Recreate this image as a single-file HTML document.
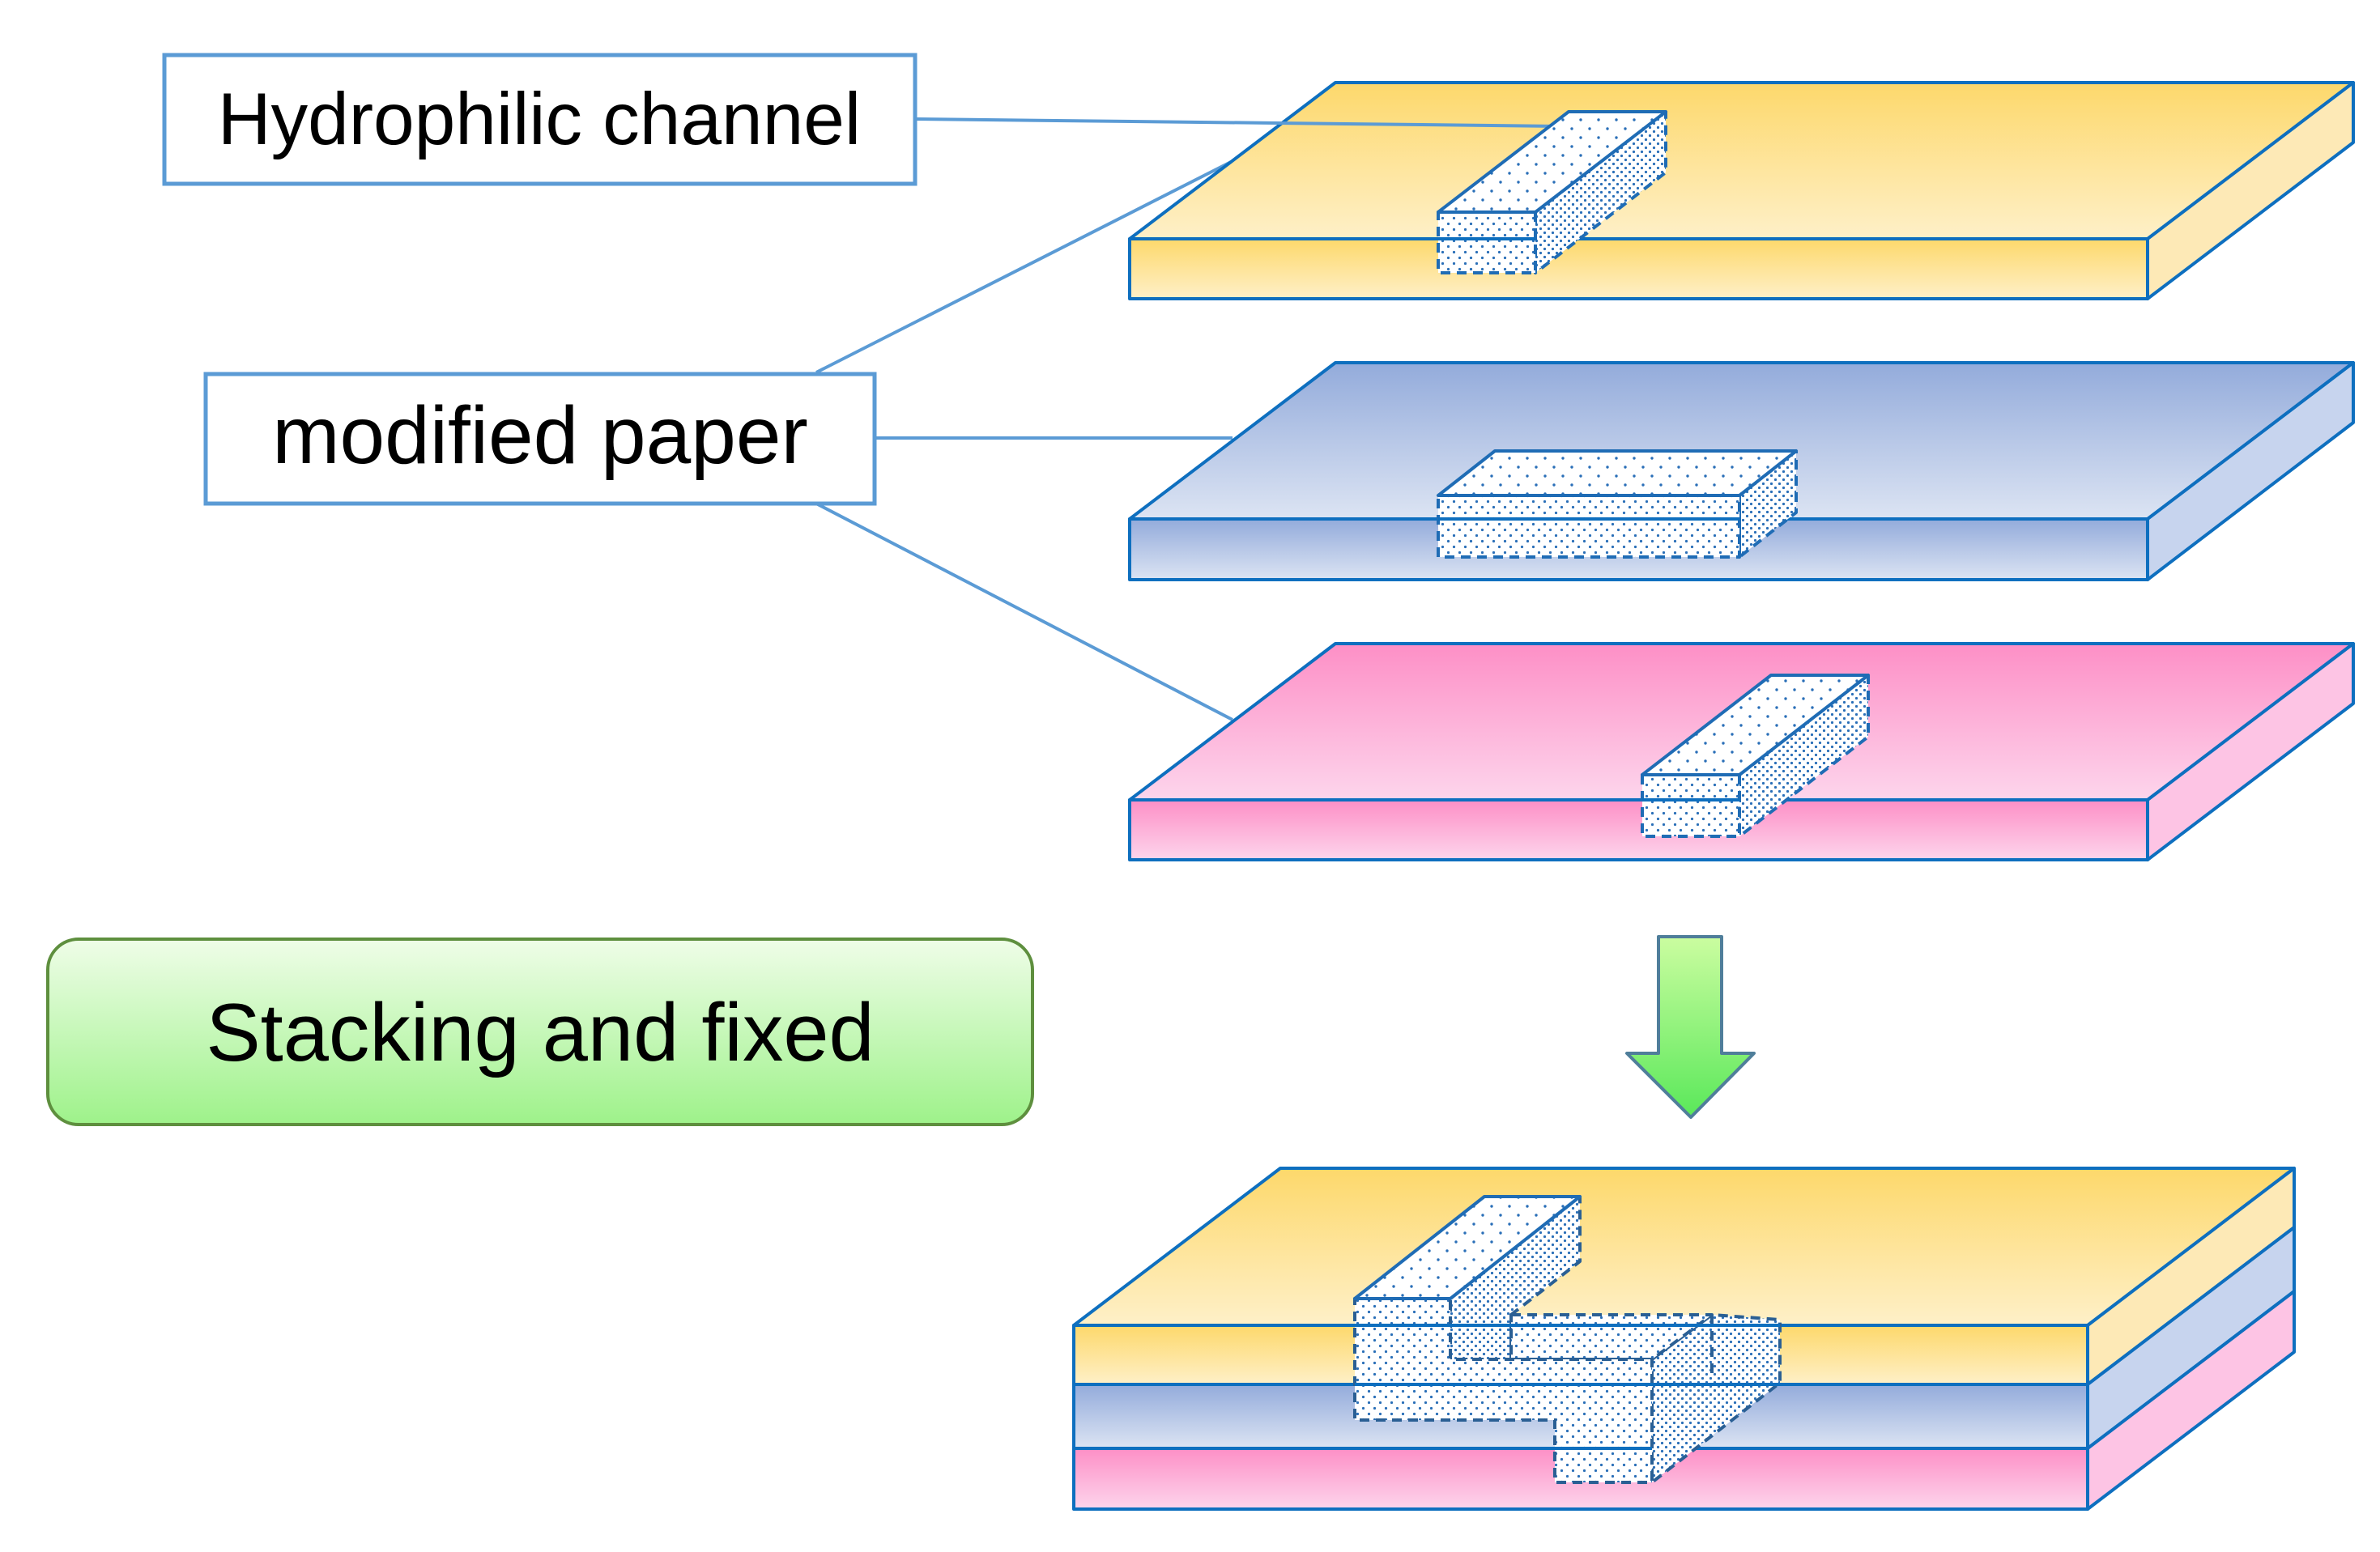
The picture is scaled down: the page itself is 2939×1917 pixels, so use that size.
<!DOCTYPE html>
<html><head><meta charset="utf-8"><style>html,body{margin:0;padding:0;background:#fff}svg{display:block}</style></head>
<body>
<svg width="2939" height="1917" viewBox="0 0 2939 1917" xmlns="http://www.w3.org/2000/svg" font-family="Liberation Sans, sans-serif">
<defs>
<linearGradient id="yT" x1="0" y1="0" x2="0" y2="1"><stop offset="0" stop-color="#fdd86b"/><stop offset="1" stop-color="#fef0c8"/></linearGradient>
<linearGradient id="bT" x1="0" y1="0" x2="0" y2="1"><stop offset="0" stop-color="#93abdb"/><stop offset="1" stop-color="#dce4f3"/></linearGradient>
<linearGradient id="pT" x1="0" y1="0" x2="0" y2="1"><stop offset="0" stop-color="#fd8fc6"/><stop offset="1" stop-color="#fdd5ec"/></linearGradient>
<linearGradient id="gB" x1="0" y1="0" x2="0" y2="1"><stop offset="0" stop-color="#effde8"/><stop offset="1" stop-color="#9ef28a"/></linearGradient>
<linearGradient id="arr" x1="0" y1="0" x2="0" y2="1"><stop offset="0" stop-color="#cbfda0"/><stop offset="1" stop-color="#5ae85a"/></linearGradient>
<pattern id="dS" width="22" height="22" patternUnits="userSpaceOnUse"><rect width="22" height="22" fill="#fff"/><circle cx="5" cy="5" r="1.7" fill="#2a6fb8"/><circle cx="16" cy="16" r="1.7" fill="#2a6fb8"/></pattern>
<pattern id="dD" width="10" height="10" patternUnits="userSpaceOnUse"><rect width="10" height="10" fill="#fff"/><circle cx="2.5" cy="2.5" r="1.6" fill="#2a6fb8"/><circle cx="7.5" cy="7.5" r="1.6" fill="#2a6fb8"/></pattern>
<pattern id="dM" width="14" height="14" patternUnits="userSpaceOnUse"><rect width="14" height="14" fill="#fff"/><circle cx="3.5" cy="3.5" r="1.6" fill="#2a6fb8"/><circle cx="10.5" cy="10.5" r="1.6" fill="#2a6fb8"/></pattern>
</defs>

<!-- connectors -->
<g stroke="#5b9bd5" stroke-width="4" fill="none">
<line x1="1008" y1="460" x2="1520" y2="200"/>
<line x1="1080" y1="541" x2="1522" y2="541"/>
<line x1="1008" y1="622" x2="1522" y2="889"/>
</g>

<!-- labels -->
<rect x="203" y="68" width="927" height="159" fill="#fff" stroke="#5b9bd5" stroke-width="5"/>
<text x="666" y="178" font-size="91" text-anchor="middle" fill="#000">Hydrophilic channel</text>
<rect x="254" y="462" width="826" height="160" fill="#fff" stroke="#5b9bd5" stroke-width="5"/>
<text x="667" y="572" font-size="100" text-anchor="middle" fill="#000">modified paper</text>
<rect x="59" y="1160" width="1216" height="229" rx="38" fill="url(#gB)" stroke="#5e8f3e" stroke-width="4"/>
<text x="667" y="1310" font-size="101" text-anchor="middle" fill="#000">Stacking and fixed</text>

<g stroke="#0e6fbf" stroke-width="4" stroke-linejoin="round">
<!-- plate 1 -->
<polygon points="1395,295 2652,295 2906,102 1649,102" fill="url(#yT)"/>
<polygon points="2652,295 2906,102 2906,176 2652,369" fill="#fde9b6"/>
<rect x="1395" y="295" width="1257" height="74" fill="url(#yT)"/>
<!-- plate 2 -->
<polygon points="1395,641 2652,641 2906,448 1649,448" fill="url(#bT)"/>
<polygon points="2652,641 2906,448 2906,522 2652,716" fill="#c7d4ee"/>
<rect x="1395" y="641" width="1257" height="75" fill="url(#bT)"/>
<!-- plate 3 -->
<polygon points="1395,988 2652,988 2906,795 1649,795" fill="url(#pT)"/>
<polygon points="2652,988 2906,795 2906,869 2652,1062" fill="#fdc4e4"/>
<rect x="1395" y="988" width="1257" height="74" fill="url(#pT)"/>
</g>
<line x1="1130" y1="147" x2="1930" y2="156" stroke="#5b9bd5" stroke-width="4"/>

<!-- channel 1 -->
<g stroke="#1f6cb5" stroke-width="4" stroke-linejoin="round">
<polygon points="1896,262 2057,138 2057,213 1896,337" fill="url(#dD)" stroke-dasharray="12,8"/>
<rect x="1776" y="262" width="120" height="75" fill="url(#dM)" stroke-dasharray="12,8"/>
<polygon points="1776,262 1896,262 2057,138 1937,138" fill="url(#dS)"/>
<line x1="1776" y1="295" x2="1896" y2="295" stroke="#0e6fbf"/>
</g>
<!-- channel 2 -->
<g stroke="#1f6cb5" stroke-width="4" stroke-linejoin="round">
<polygon points="2148,612 2218,557 2218,633 2148,688" fill="url(#dD)" stroke-dasharray="12,8"/>
<rect x="1776" y="612" width="372" height="76" fill="url(#dM)" stroke-dasharray="12,8"/>
<polygon points="1776,612 2148,612 2218,557 1846,557" fill="url(#dS)"/>
<line x1="1776" y1="641" x2="2148" y2="641" stroke="#0e6fbf"/>
</g>
<!-- channel 3 -->
<g stroke="#1f6cb5" stroke-width="4" stroke-linejoin="round">
<polygon points="2148,957 2307,834 2307,910 2148,1033" fill="url(#dD)" stroke-dasharray="12,8"/>
<rect x="2028" y="957" width="120" height="76" fill="url(#dM)" stroke-dasharray="12,8"/>
<polygon points="2028,957 2148,957 2307,834 2187,834" fill="url(#dS)"/>
<line x1="2028" y1="988" x2="2148" y2="988" stroke="#0e6fbf"/>
</g>

<!-- arrow -->
<polygon points="2048,1157 2126,1157 2126,1301 2166,1301 2088,1380 2009,1301 2048,1301" fill="url(#arr)" stroke="#4f7e9a" stroke-width="4" stroke-linejoin="round"/>

<!-- stack -->
<g stroke="#0e6fbf" stroke-width="4" stroke-linejoin="round">
<polygon points="1326,1637 2578,1637 2833,1443 1581,1443" fill="url(#yT)"/>
<polygon points="2578,1637 2833,1443 2833,1516 2578,1710" fill="#fde9b6"/>
<polygon points="2578,1710 2833,1516 2833,1595 2578,1789" fill="#c7d4ee"/>
<polygon points="2578,1789 2833,1595 2833,1670 2578,1864" fill="#fdc4e4"/>
<rect x="1326" y="1637" width="1252" height="73" fill="url(#yT)"/>
<rect x="1326" y="1710" width="1252" height="79" fill="url(#bT)"/>
<rect x="1326" y="1789" width="1252" height="75" fill="url(#pT)"/>
</g>
<!-- composite channel -->
<g stroke="#2a5f94" stroke-width="4" stroke-linejoin="round">
<polygon points="2040,1679 2114,1624 2198,1630 2198,1708 2040,1831" fill="url(#dD)" stroke-dasharray="12,8"/>
<polygon points="1791,1604 1951,1478 1951,1558 1866,1624 1866,1679 1791,1679" fill="url(#dD)" stroke-dasharray="12,8"/>
<polygon points="1866,1624 2114,1624 2040,1679 1866,1679" fill="url(#dM)" stroke-dasharray="12,8"/>
<polygon points="1673,1604 1791,1604 1791,1679 2040,1679 2040,1831 1920,1831 1920,1754 1673,1754" fill="url(#dM)" stroke-dasharray="12,8"/>
<polygon points="1673,1604 1791,1604 1951,1478 1833,1478" fill="url(#dS)" stroke="#1f6cb5"/>
<line x1="2114" y1="1624" x2="2114" y2="1700" stroke-dasharray="12,8"/>
</g>
<g stroke="#0e6fbf" stroke-width="4">
<line x1="1673" y1="1637" x2="2198" y2="1637"/>
<line x1="1673" y1="1710" x2="2198" y2="1710"/>
<line x1="1920" y1="1789" x2="2040" y2="1789"/>
</g>
</svg>
</body></html>
